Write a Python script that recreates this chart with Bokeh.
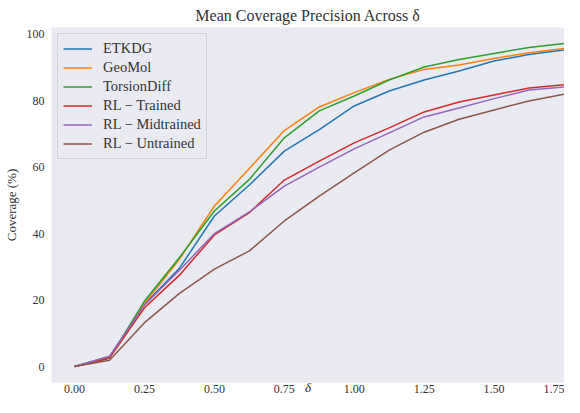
from bokeh.plotting import figure
from bokeh.models import Range1d, FixedTicker, NumeralTickFormatter
from bokeh.embed import file_html
from bokeh.resources import INLINE

delta = [0.0, 0.125, 0.25, 0.375, 0.5, 0.625, 0.75, 0.875, 1.0, 1.125, 1.25, 1.375, 1.5, 1.625, 1.75]

etkdg = [0, 3.0, 18.7, 29.6, 45.3, 54.6, 64.8, 71.3, 78.4, 82.9, 86.2, 88.9, 91.9, 93.9, 95.2]
geomol = [0, 2.6, 19.0, 32.3, 48.3, 59.6, 71.0, 78.1, 82.4, 86.4, 89.4, 90.7, 92.7, 94.4, 95.7]
torsiondiff = [0, 2.6, 19.7, 32.8, 46.8, 56.3, 68.8, 76.9, 81.4, 86.2, 90.1, 92.4, 94.2, 96.0, 97.2]
rl_trained = [0, 2.6, 17.7, 27.5, 39.6, 46.3, 56.1, 61.8, 67.3, 71.8, 76.6, 79.6, 81.7, 83.8, 84.8]
rl_midtrained = [0, 3.1, 18.5, 29.0, 40.0, 46.5, 54.3, 60.0, 65.5, 70.3, 75.1, 77.8, 80.6, 83.2, 84.1]
rl_untrained = [0, 1.9, 13.2, 22.0, 29.3, 34.8, 43.8, 51.3, 58.3, 65.1, 70.5, 74.4, 77.2, 79.9, 81.9]

series_names = ["ETKDG", "GeoMol", "TorsionDiff", "RL \u2212 Trained", "RL \u2212 Midtrained", "RL \u2212 Untrained"]
series_values = [etkdg, geomol, torsiondiff, rl_trained, rl_midtrained, rl_untrained]
colors = ["#1f77b4", "#ff7f0e", "#2ca02c", "#d62728", "#9467bd", "#8c564b"]

x_ticks = [0.0, 0.25, 0.5, 0.75, 1.0, 1.25, 1.5, 1.75]
y_ticks = [0, 20, 40, 60, 80, 100]

FONT = "Liberation Serif"
TXT = "#333333"

p = figure(width=564, height=397, output_backend="svg", toolbar_location=None,
           x_range=Range1d(-0.0826, 1.752), y_range=Range1d(-4.8, 102.0),
           title="Mean Coverage Precision Across \u03b4")
p.min_border_left = 0
p.min_border_right = 0
p.min_border_top = 0
p.min_border_bottom = 0
p.background_fill_color = "#EAEAF2"
p.border_fill_color = "white"
p.outline_line_color = None
p.grid.visible = False

p.title.text_font = FONT
p.title.text_font_size = "16px"
p.title.text_font_style = "normal"
p.title.text_color = TXT
p.title.align = "center"
p.title.standoff = 8

for ax in (p.xaxis[0], p.yaxis[0]):
    ax.axis_line_color = None
    ax.major_tick_line_color = None
    ax.minor_tick_line_color = None
    ax.major_tick_out = 0
    ax.major_tick_in = 0
    ax.minor_tick_out = 0
    ax.minor_tick_in = 0
    ax.major_label_text_font = FONT
    ax.major_label_text_font_size = "12px"
    ax.major_label_text_color = TXT
    ax.axis_label_text_font = FONT
    ax.axis_label_text_font_size = "13px"
    ax.axis_label_text_color = TXT

p.xaxis.ticker = FixedTicker(ticks=x_ticks)
p.xaxis.formatter = NumeralTickFormatter(format="0.00")
p.xaxis.axis_label = "\u03b4"
p.xaxis.axis_label_text_font_style = "italic"
p.xaxis.axis_label_text_line_height = 0.6
p.xaxis.major_label_standoff = 2
p.xaxis.axis_label_standoff = -16

p.yaxis.ticker = FixedTicker(ticks=y_ticks)
p.yaxis.axis_label = "Coverage (%)"
p.yaxis.axis_label_text_font_style = "normal"
p.yaxis.major_label_standoff = 7
p.yaxis.axis_label_standoff = 5

for name, vals, c in zip(series_names, series_values, colors):
    p.line(delta, vals, line_color=c, line_width=1.5, legend_label=name)

lg = p.legend[0]
lg.location = "top_left"
lg.margin = 6
lg.padding = 5
lg.spacing = 0
lg.glyph_width = 29
lg.glyph_height = 19
lg.label_height = 19
lg.label_standoff = 11
lg.label_text_font = FONT
lg.label_text_font_size = "14.5px"
lg.label_text_color = TXT
lg.background_fill_color = "#EAEAF2"
lg.background_fill_alpha = 0.8
lg.border_line_color = "#CCCCCC"
lg.border_line_alpha = 0.8
lg.border_line_width = 1

open("out.html", "w").write(file_html(p, INLINE))
